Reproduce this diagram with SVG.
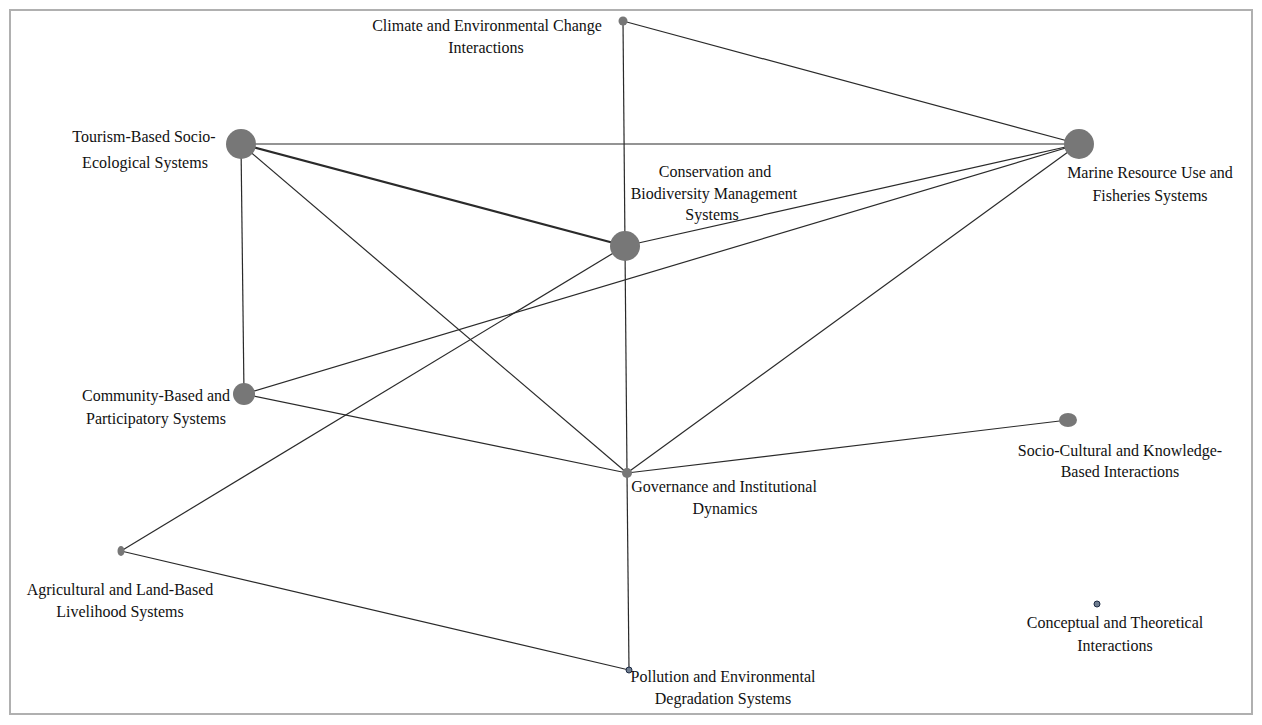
<svg xmlns="http://www.w3.org/2000/svg" width="1262" height="725" viewBox="0 0 1262 725">
<style>
.lbl{font-family:"Liberation Serif","Times New Roman",serif;font-size:16px;fill:#111;text-anchor:middle}
.e{stroke:#2a2a2a;stroke-width:1.2;fill:none}
.n{fill:#777777}
</style>
<rect x="0" y="0" width="1262" height="725" fill="#fff"/>
<rect x="10" y="10" width="1242" height="704" fill="none" stroke="#b0b0b0" stroke-width="2"/>
<g id="connectors">
<line class="e" x1="623" y1="21" x2="1079" y2="144"/>
<line class="e" x1="623" y1="21" x2="627" y2="473"/>
<line class="e" x1="241" y1="144" x2="1079" y2="144"/>
<line class="e" x1="241" y1="144" x2="625" y2="246" style="stroke-width:2.2"/>
<line class="e" x1="241" y1="144" x2="627" y2="473"/>
<line class="e" x1="241" y1="144" x2="244" y2="394"/>
<line class="e" x1="625" y1="246" x2="1079" y2="144"/>
<line class="e" x1="244" y1="394" x2="1079" y2="144"/>
<line class="e" x1="627" y1="473" x2="1079" y2="144"/>
<line class="e" x1="244" y1="394" x2="627" y2="473"/>
<line class="e" x1="627" y1="473" x2="1068" y2="420"/>
<line class="e" x1="625" y1="246" x2="121" y2="551"/>
<line class="e" x1="121" y1="551" x2="629" y2="670"/>
<line class="e" x1="627" y1="473" x2="629" y2="670"/>
</g>
<g id="climate"><circle class="n" cx="623" cy="21" r="4.5"/><text class="lbl" x="487" y="31">Climate and Environmental Change</text><text class="lbl" x="486" y="53">Interactions</text></g>
<g id="tourism"><circle class="n" cx="241" cy="144" r="15"/><text class="lbl" x="144" y="142">Tourism-Based Socio-</text><text class="lbl" x="145" y="168">Ecological Systems</text></g>
<g id="conservation"><circle class="n" cx="625" cy="246" r="15"/><text class="lbl" x="715" y="177">Conservation and</text><text class="lbl" x="714" y="199">Biodiversity Management</text><text class="lbl" x="712" y="220">Systems</text></g>
<g id="marine"><circle class="n" cx="1079" cy="144" r="15"/><text class="lbl" x="1150" y="178">Marine Resource Use and</text><text class="lbl" x="1150" y="201">Fisheries Systems</text></g>
<g id="community"><circle class="n" cx="244" cy="394" r="11"/><text class="lbl" x="156" y="401">Community-Based and</text><text class="lbl" x="156" y="424">Participatory Systems</text></g>
<g id="governance"><circle class="n" cx="627" cy="473" r="5"/><text class="lbl" x="724" y="492">Governance and Institutional</text><text class="lbl" x="725" y="514">Dynamics</text></g>
<g id="sociocultural"><ellipse class="n" cx="1068" cy="420" rx="9" ry="7"/><text class="lbl" x="1120" y="456">Socio-Cultural and Knowledge-</text><text class="lbl" x="1120" y="477">Based Interactions</text></g>
<g id="agricultural"><ellipse class="n" cx="121" cy="551" rx="3.5" ry="5"/><text class="lbl" x="120" y="595">Agricultural and Land-Based</text><text class="lbl" x="120" y="617">Livelihood Systems</text></g>
<g id="conceptual"><circle cx="1097" cy="604" r="3" fill="#6f7d8f" stroke="#1d2a44" stroke-width="1"/><text class="lbl" x="1115" y="628">Conceptual and Theoretical</text><text class="lbl" x="1115" y="651">Interactions</text></g>
<g id="pollution"><circle cx="629" cy="670" r="3" fill="#6f7d8f" stroke="#1d2a44" stroke-width="1"/><text class="lbl" x="723" y="682">Pollution and Environmental</text><text class="lbl" x="723" y="704">Degradation Systems</text></g>
</svg>
